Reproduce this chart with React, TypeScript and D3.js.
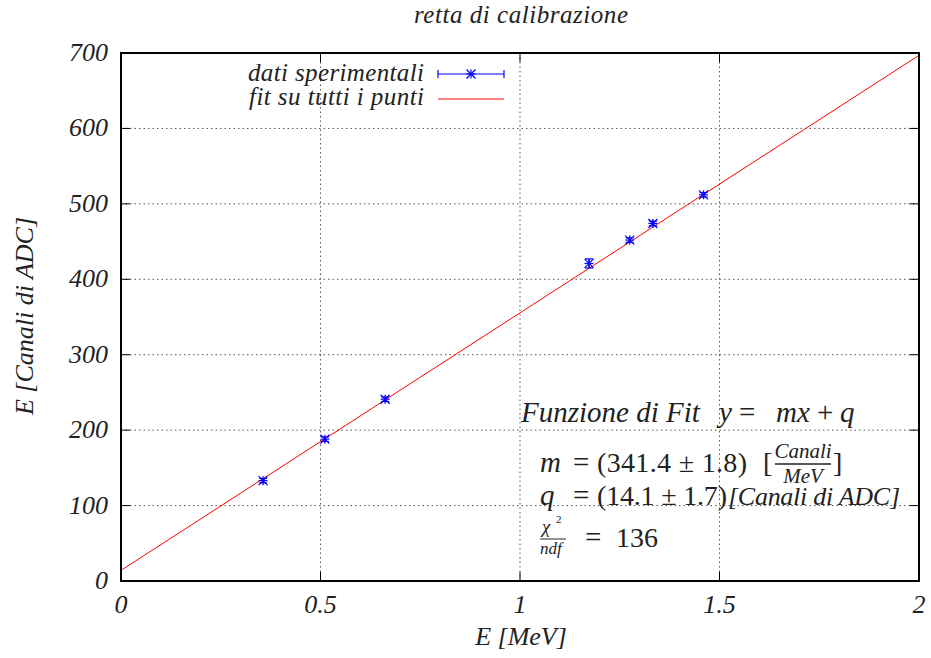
import React from "react";
import * as d3 from "d3";

const energies = [0.356, 0.511, 0.662, 1.173, 1.275, 1.333, 1.46];
const channels = [133, 188, 241, 421, 452, 474, 512];
const channelErrs = [3, 3, 3, 6, 3, 3, 3];
const xTicks = [0, 0.5, 1, 1.5, 2];
const xTickLabels = ["0", "0.5", "1", "1.5", "2"];
const yTicks = [0, 100, 200, 300, 400, 500, 600, 700];
const fitM = 341.4;
const fitQ = 14.1;

const W = 931, H = 658;
const L = 121, R = 919, T = 53, B = 581;
const BLUE = "#0000ff";
const RED = "#ff0000";
const INK = "#222";
const FONT = "Liberation Serif";

function Star({ x, y, s = 4.5 }: { x: number; y: number; s?: number }) {
  return (
    <g stroke={BLUE} strokeWidth={1.2}>
      <line x1={x - s} x2={x + s} y1={y} y2={y} />
      <line x1={x} x2={x} y1={y - s} y2={y + s} />
      <line x1={x - s} x2={x + s} y1={y - s} y2={y + s} />
      <line x1={x - s} x2={x + s} y1={y + s} y2={y - s} />
    </g>
  );
}

function T_({ x, y, size, italic = true, anchor = "start", transform, len, children }: any) {
  return (
    <text x={x} y={y} fontFamily={FONT} fontSize={size} fontStyle={italic ? "italic" : "normal"} fill={INK} textAnchor={anchor} transform={transform}
      textLength={len} lengthAdjust={len ? "spacing" : undefined}>
      {children}
    </text>
  );
}

export default function App() {
  const x = d3.scaleLinear().domain([0, 2]).range([L, R]);
  const y = d3.scaleLinear().domain([0, 700]).range([B, T]);
  const fitLine = d3.line<number>().x((d) => x(d)).y((d) => y(fitM * d + fitQ));
  const tl = 9;
  return (
    <svg width={W} height={H} style={{ position: "absolute", left: 0, top: 0, background: "#fff" }}>
      <rect width={W} height={H} fill="#fff" />
      {/* grid */}
      <g stroke="#555" strokeWidth={1} strokeDasharray="1.5,3">
        {xTicks.slice(1, -1).map((t) => (
          <line key={"gx" + t} x1={x(t)} x2={x(t)} y1={T} y2={B} />
        ))}
        {yTicks.slice(1, -1).map((t) => (
          <line key={"gy" + t} x1={L} x2={R} y1={y(t)} y2={y(t)} />
        ))}
      </g>
      {/* ticks */}
      <g stroke="#000" strokeWidth={1}>
        {xTicks.map((t) => (
          <g key={"tx" + t}>
            <line x1={x(t)} x2={x(t)} y1={B} y2={B - tl} />
            <line x1={x(t)} x2={x(t)} y1={T} y2={T + tl} />
          </g>
        ))}
        {yTicks.map((t) => (
          <g key={"ty" + t}>
            <line x1={L} x2={L + tl} y1={y(t)} y2={y(t)} />
            <line x1={R} x2={R - tl} y1={y(t)} y2={y(t)} />
          </g>
        ))}
      </g>
      {/* tick labels */}
      {xTicks.map((t, i) => (
        <T_ key={"lx" + t} x={x(t)} y={613} size={26} anchor="middle">{xTickLabels[i]}</T_>
      ))}
      {yTicks.map((t) => (
        <T_ key={"ly" + t} x={108} y={y(t) + 8} size={26} anchor="end">{t}</T_>
      ))}
      {/* fit line */}
      <path d={fitLine([0, 2]) || ""} fill="none" stroke={RED} strokeWidth={1} />
      {/* data */}
      {energies.map((e, i) => {
        const px = x(e);
        const py = y(channels[i]);
        const y1 = y(channels[i] - channelErrs[i]);
        const y2 = y(channels[i] + channelErrs[i]);
        return (
          <g key={"p" + i}>
            <g stroke={BLUE} strokeWidth={1.2}>
              <line x1={px} x2={px} y1={y1} y2={y2} />
              <line x1={px - 4} x2={px + 4} y1={y1} y2={y1} />
              <line x1={px - 4} x2={px + 4} y1={y2} y2={y2} />
            </g>
            <Star x={px} y={py} />
          </g>
        );
      })}
      {/* frame */}
      <rect x={L} y={T} width={R - L} height={B - T} fill="none" stroke="#000" strokeWidth={2} />
      {/* legend */}
      <T_ x={424} y={81} size={25} anchor="end" len={176}>dati sperimentali</T_>
      <T_ x={424} y={105} size={25} anchor="end" len={175}>fit su tutti i punti</T_>
      <g stroke={BLUE} strokeWidth={1.2}>
        <line x1={438} x2={504} y1={74} y2={74} />
        <line x1={438} x2={438} y1={70} y2={78} />
        <line x1={504} x2={504} y1={70} y2={78} />
      </g>
      <Star x={471} y={74} />
      <line x1={438} x2={504} y1={99} y2={99} stroke={RED} strokeWidth={1} />
      {/* fit annotation */}
      <T_ x={521} y={422} size={29}>Funzione di Fit</T_>
      <T_ x={719} y={422} size={29}>y</T_>
      <T_ x={739} y={422} size={29} italic={false}>=</T_>
      <T_ x={776} y={422} size={29}>mx</T_>
      <T_ x={817} y={422} size={29} italic={false}>+</T_>
      <T_ x={840} y={422} size={29}>q</T_>

      <T_ x={540} y={472} size={29}>m</T_>
      <T_ x={573} y={472} size={29} italic={false}>=</T_>
      <T_ x={597} y={472} size={28} italic={false} len={150}>(341.4 ± 1.8)</T_>
      <T_ x={763} y={472} size={28} italic={false}>[</T_>
      <T_ x={803} y={458} size={21} anchor="middle">Canali</T_>
      <line x1={775} x2={831} y1={464} y2={464} stroke={INK} strokeWidth={1.5} />
      <T_ x={803} y={483} size={21} anchor="middle">MeV</T_>
      <T_ x={833} y={472} size={28} italic={false}>]</T_>

      <T_ x={540} y={505} size={29}>q</T_>
      <T_ x={573} y={505} size={29} italic={false}>=</T_>
      <T_ x={597} y={505} size={28} italic={false} len={130}>(14.1 ± 1.7)</T_>
      <T_ x={728} y={505} size={26} len={172}>[Canali di ADC]</T_>

      <T_ x={542} y={533} size={19}>χ</T_>
      <T_ x={556} y={523} size={11} italic={false}>2</T_>
      <line x1={540} x2={566} y1={539} y2={539} stroke={INK} strokeWidth={1} />
      <T_ x={540} y={554} size={17}>ndf</T_>
      <T_ x={585} y={547} size={29} italic={false}>=</T_>
      <T_ x={616} y={547} size={28} italic={false}>136</T_>
      {/* axis titles */}
      <T_ x={521} y={23} size={25} anchor="middle" len={214}>retta di calibrazione</T_>
      <T_ x={521} y={645} size={26} anchor="middle">E [MeV]</T_>
      <T_ x={0} y={0} size={26} anchor="middle" transform="translate(33,316) rotate(-90)">E [Canali di ADC]</T_>
    </svg>
  );
}
